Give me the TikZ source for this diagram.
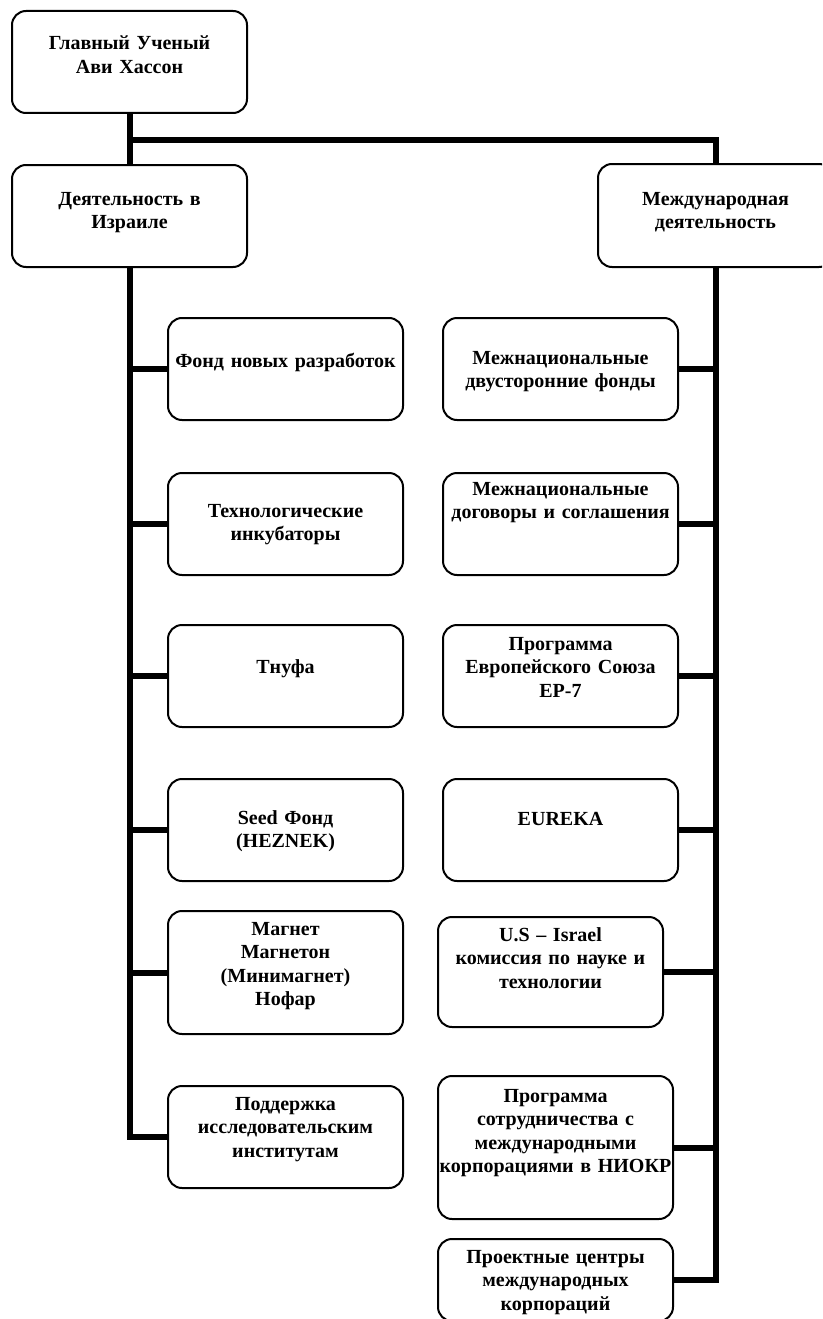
\documentclass[tikz,border=0pt]{standalone}
\usepackage{fontspec}
\setmainfont{Liberation Serif}
\usetikzlibrary{positioning}
\tikzstyle{box}=[draw,line width=2pt,rounded corners=14pt,anchor=north west,
  minimum width=235pt,inner xsep=1pt,inner ysep=0pt,text width=233pt,align=center,
  font=\fontsize{20}{23.5}\selectfont\bfseries]
\tikzstyle{link}=[draw,line width=6pt,line join=miter]

\begin{document}
\begin{tikzpicture}[x=1pt,y=-1pt]
  \useasboundingbox (0,0) rectangle (822,1319);
  \clip (0,0) rectangle (822,1319);
  % top level
  \node[box,text height=39pt,text depth=63pt] (chief) at (11,10) {Главный Ученый\\Ави Хассон};
  \node[box,text height=40pt,text depth=62pt] (isr)   at (11,164) {Деятельность в\\Израиле};
  \node[box,text height=41pt,text depth=62pt] (intl)  at (597,163) {Международная\\деятельность};
  \coordinate (split) at (0,140);
  % activity in Israel
  \node[box,text height=49pt,text depth=53pt] (fund)  at (167,317) {Фонд новых разработок};
  \node[box,text height=44pt,text depth=58pt] (incub) at (167,472) {Технологические\\инкубаторы};
  \node[box,text height=48pt,text depth=54pt] (tnufa) at (167,624) {Тнуфа};
  \node[box,text height=45pt,text depth=57pt] (seed)  at (167,778) {Seed Фонд\\(HEZNEK)};
  \node[box,text height=24pt,text depth=99pt] (magnet) at (167,910) {Магнет\\Магнетон\\(Минимагнет)\\Нофар};
  \node[box,text height=24pt,text depth=78pt] (inst)  at (167,1085) {Поддержка\\исследовательским\\институтам};
  % international activity
  \node[box,text height=46pt,text depth=56pt] (binat) at (442,317) {Межнациональные\\двусторонние фонды};
  \node[box,text height=22pt,text depth=80pt] (agree) at (442,472) {Межнациональные\\договоры и соглашения};
  \node[box,text height=25pt,text depth=77pt] (eu)    at (442,624) {Программа\\Европейского Союза\\EP-7};
  \node[box,text height=46pt,text depth=56pt] (eureka) at (442,778) {EUREKA};
  \node[box,minimum width=225pt,text width=223pt,text height=24pt,text depth=86pt] (usisr) at (437,916) {U.S -- Israel\\комиссия по науке и\\технологии};
  \node[box,text height=26pt,text depth=117pt] (coop) at (437,1075) {Программа\\сотрудничества с\\международными\\корпорациями в НИОКР};
  \node[box,text height=24pt,text depth=58pt] (centres) at (437,1238) {Проектные центры\\международных\\корпораций};

  % connectors
  \draw[link] (chief.south) -- (isr.north);
  \draw[link] (chief.south |- split) -- (intl.north |- split) -- (intl.north);
  \draw[link] (isr.south) -- (isr.south |- inst.west) -- (inst.west);
  \foreach \n in {fund,incub,tnufa,seed,magnet}
    \draw[link] (\n.west) -- (\n.west -| isr.south);
  \draw[link] (intl.south) -- (intl.south |- centres.east) -- (centres.east);
  \foreach \n in {binat,agree,eu,eureka,usisr,coop}
    \draw[link] (\n.east) -- (\n.east -| intl.south);
\end{tikzpicture}
\end{document}
